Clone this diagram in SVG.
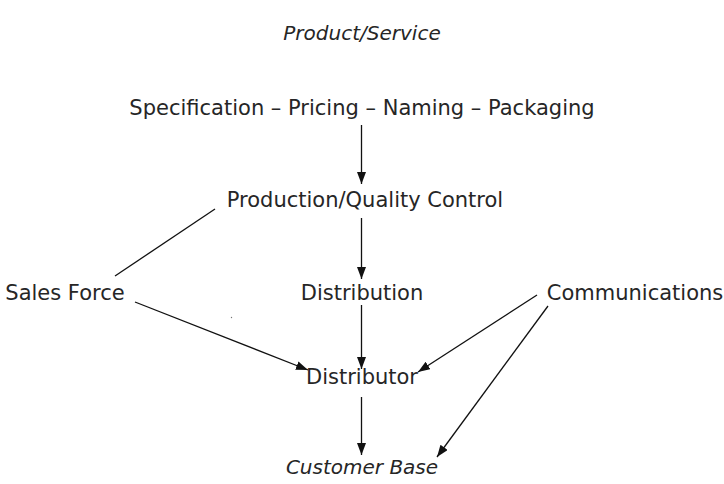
<svg xmlns="http://www.w3.org/2000/svg" width="724" height="484" viewBox="0 0 724 484">
  <style>
    .label { font-family: "DejaVu Sans", "Liberation Sans", sans-serif; font-size: 21px; fill: #262626; text-anchor: middle; }
    .italic { font-style: italic; font-size: 20px; }
    .edge { stroke: #111; stroke-width: 1.3; fill: none; }
    .arrow { marker-end: url(#head); }
  </style>
  <defs>
    <marker id="head" markerUnits="userSpaceOnUse" markerWidth="13" markerHeight="10" refX="12" refY="4.5" orient="auto">
      <path d="M0,0 L12,4.5 L0,9 z" fill="#111"/>
    </marker>
  </defs>
  <rect width="724" height="484" fill="#ffffff"/>

  <g id="connectors">
    <line class="edge arrow" x1="361.5" y1="125" x2="361.5" y2="184"/>
    <line class="edge arrow" x1="361.5" y1="218" x2="361.5" y2="279"/>
    <line class="edge arrow" x1="361.5" y1="305" x2="361.5" y2="369"/>
    <line class="edge arrow" x1="361.5" y1="397" x2="361.5" y2="455"/>
    <line class="edge" x1="215" y1="209" x2="115" y2="276"/>
    <line class="edge arrow" x1="135" y1="302" x2="308" y2="370"/>
    <line class="edge arrow" x1="537" y1="295" x2="418" y2="372"/>
    <line class="edge arrow" x1="548" y1="306" x2="437" y2="457"/>
  </g>

  <g id="product-service"><text class="label italic" x="362" y="40">Product/Service</text></g>
  <g id="specification"><text class="label" x="362" y="115">Specification – Pricing – Naming – Packaging</text></g>
  <g id="production"><text class="label" x="365" y="207">Production/Quality Control</text></g>
  <g id="sales-force"><text class="label" x="65" y="300">Sales Force</text></g>
  <g id="distribution"><text class="label" x="362" y="300">Distribution</text></g>
  <g id="communications"><text class="label" x="635" y="300">Communications</text></g>
  <g id="distributor"><text class="label" x="362" y="384">Distributor</text></g>
  <g id="customer-base"><text class="label italic" x="362" y="474">Customer Base</text></g>

  <circle cx="231.5" cy="317.5" r="0.7" fill="#777"/>
</svg>
